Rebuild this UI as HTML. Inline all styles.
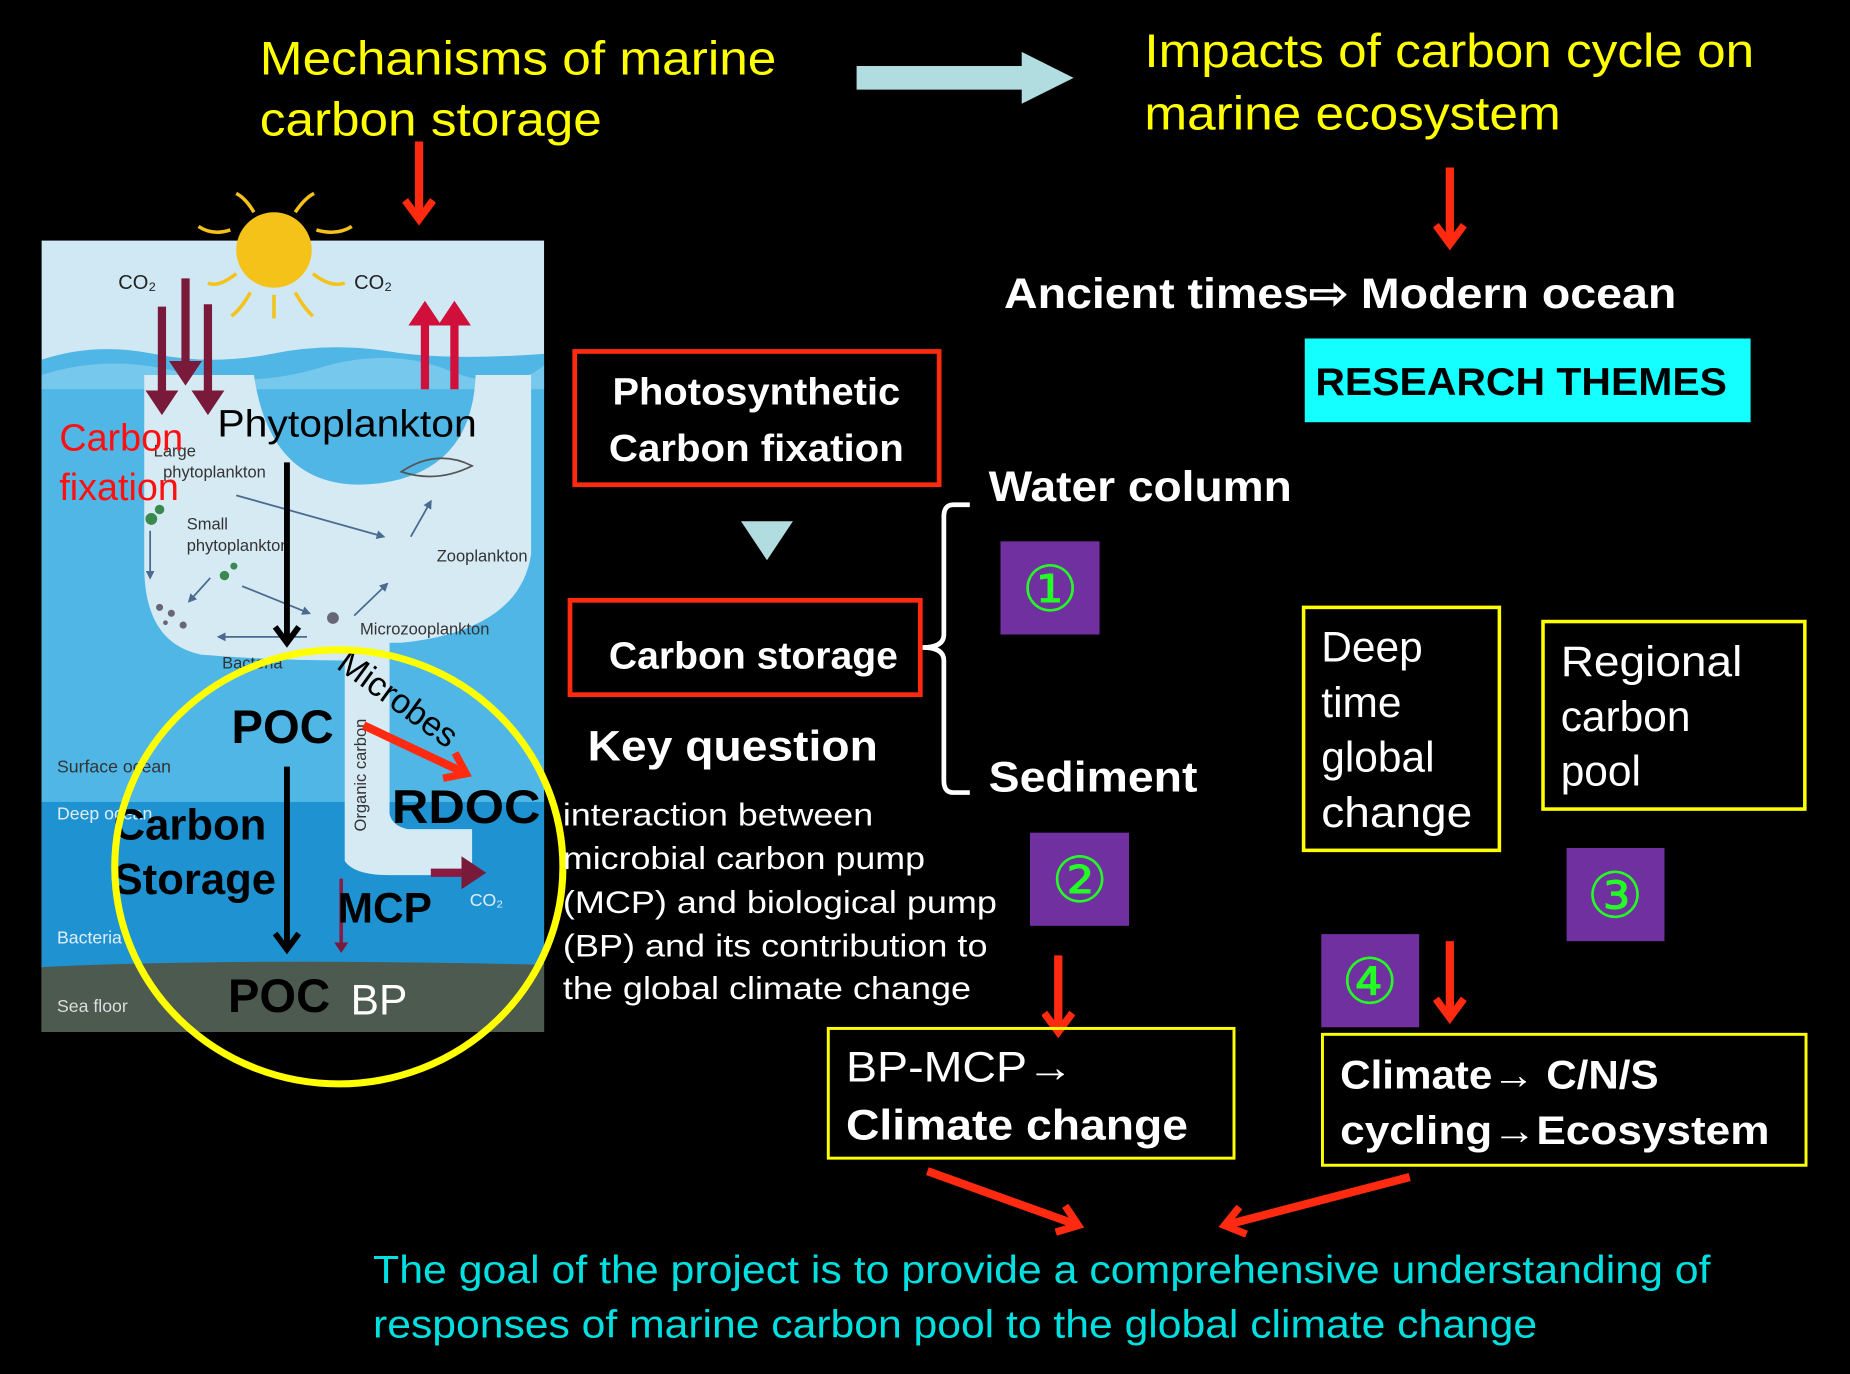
<!DOCTYPE html>
<html><head><meta charset="utf-8"><style>
html,body{margin:0;padding:0;background:#000;width:1850px;height:1374px;overflow:hidden}
svg{display:block}
text{font-family:"Liberation Sans",sans-serif}
</style></head><body>
<svg width="1850" height="1374" viewBox="0 0 1568 1165" xmlns="http://www.w3.org/2000/svg">
<defs>
<marker id="rh" markerWidth="4" markerHeight="4" refX="2.6" refY="2" orient="auto" markerUnits="strokeWidth"><path d="M0.3,0.3 L2.6,2 L0.3,3.7" fill="none" stroke="#ff2a10" stroke-width="0.9"/></marker>
<marker id="bh" markerWidth="5" markerHeight="5" refX="3" refY="2.5" orient="auto" markerUnits="strokeWidth"><path d="M0.3,0.5 L3,2.5 L0.3,4.5" fill="none" stroke="#000" stroke-width="1"/></marker>
<marker id="dh" markerWidth="4" markerHeight="4" refX="2" refY="2" orient="auto" markerUnits="strokeWidth"><path d="M0,0 L3,2 L0,4z" fill="#7a1a3a"/></marker>
<marker id="ph" markerWidth="4" markerHeight="4" refX="2" refY="2" orient="auto" markerUnits="strokeWidth"><path d="M0,0 L3,2 L0,4z" fill="#d0103a"/></marker>
<marker id="sh" markerWidth="6" markerHeight="6" refX="4" refY="3" orient="auto" markerUnits="strokeWidth"><path d="M0,0.5 L5,3 L0,5.5z" fill="#4a6a90"/></marker>
</defs>
<rect width="1568" height="1165" fill="#000"/>

<text x="220" y="63" font-size="40" fill="#ffff00" textLength="438" lengthAdjust="spacingAndGlyphs">Mechanisms of marine</text>
<text x="220" y="115" font-size="40" fill="#ffff00" textLength="290" lengthAdjust="spacingAndGlyphs">carbon storage</text>
<text x="970" y="57" font-size="40" fill="#ffff00" textLength="517" lengthAdjust="spacingAndGlyphs">Impacts of carbon cycle on</text>
<text x="970" y="110" font-size="40" fill="#ffff00" textLength="353" lengthAdjust="spacingAndGlyphs">marine ecosystem</text>
<path d="M726,56 H866 V44 L910,66 L866,88 V76 H726z" fill="#b2dde0"/>
<line x1="355" y1="120" x2="355" y2="186" stroke="#ff2a10" stroke-width="7" marker-end="url(#rh)"/>
<line x1="1229" y1="142" x2="1229" y2="207" stroke="#ff2a10" stroke-width="7" marker-end="url(#rh)"/>

<rect x="35" y="204" width="426" height="671" fill="#cfe8f3"/>
<path d="M35,305 Q80,290 130,300 T230,300 T330,298 T461,300 V680 H35z" fill="#4fb6e6"/>
<path d="M35,318 Q90,300 150,315 T270,312 T380,314 T461,310 V330 H35z" fill="#7fcdee" opacity="0.8"/>
<rect x="35" y="680" width="426" height="140" fill="#1f92d2"/>
<path d="M35,820 Q200,812 461,818 V875 H35z" fill="#4c5a50"/>
<path d="M122,318 H215 Q230,420 320,410 Q400,400 403,318 H450 V470 Q440,535 340,545 H330 V690 Q332,700 345,703 H400 V742 H330 Q300,742 292,730 V560 Q230,560 170,555 Q122,545 122,480z" fill="#d6eaf4"/>
<circle cx="232" cy="212" r="32" fill="#f5c21a"/>
<g stroke="#f5c21a" stroke-width="3" fill="none">
<path d="M195,195 Q180,200 168,192"/><path d="M268,195 Q285,200 298,192"/><path d="M250,248 Q258,262 265,268"/><path d="M212,248 Q204,262 196,268"/><path d="M200,232 Q185,244 176,240"/><path d="M265,232 Q280,244 292,240"/><path d="M232,250 V270"/><path d="M215,180 Q208,168 200,164"/><path d="M250,180 Q258,168 266,164"/></g>
<text x="100" y="245" font-size="17" fill="#222">CO₂</text>
<text x="300" y="245" font-size="17" fill="#222">CO₂</text>
<line x1="137" y1="260" x2="137" y2="345" stroke="#7a1a3a" stroke-width="7" marker-end="url(#dh)"/>
<line x1="157" y1="236" x2="157" y2="320" stroke="#7a1a3a" stroke-width="7" marker-end="url(#dh)"/>
<line x1="176" y1="258" x2="176" y2="345" stroke="#7a1a3a" stroke-width="7" marker-end="url(#dh)"/>
<line x1="360" y1="330" x2="360" y2="262" stroke="#d0103a" stroke-width="7" marker-end="url(#ph)"/>
<line x1="385" y1="330" x2="385" y2="262" stroke="#d0103a" stroke-width="7" marker-end="url(#ph)"/>
<text x="130" y="387" font-size="14" fill="#333">Large</text>
<text x="138" y="405" font-size="14" fill="#333">phytoplankton</text>
<text x="158" y="449" font-size="14" fill="#333">Small</text>
<text x="158" y="467" font-size="14" fill="#333">phytoplankton</text>
<text x="370" y="476" font-size="14" fill="#333">Zooplankton</text>
<text x="305" y="538" font-size="14" fill="#333">Microzooplankton</text>
<text x="188" y="567" font-size="14" fill="#333">Bacteria</text>
<text x="48" y="655" font-size="15" fill="#333">Surface ocean</text>
<text x="48" y="695" font-size="15" fill="#e0eef8">Deep ocean</text>
<text x="48" y="800" font-size="15" fill="#e0eef8">Bacteria</text>
<text x="48" y="858" font-size="15" fill="#ddd">Sea floor</text>
<text x="398" y="768" font-size="15" fill="#e0eef8">CO₂</text>
<g stroke="#4a6a90" stroke-width="1.5" fill="none">
<line x1="200" y1="420" x2="325" y2="455" marker-end="url(#sh)"/>
<line x1="127" y1="450" x2="127" y2="490" marker-end="url(#sh)"/>
<line x1="178" y1="490" x2="160" y2="510" marker-end="url(#sh)"/>
<line x1="205" y1="497" x2="262" y2="520" marker-end="url(#sh)"/>
<line x1="260" y1="540" x2="185" y2="540" marker-end="url(#sh)"/>
<line x1="300" y1="522" x2="328" y2="495" marker-end="url(#sh)"/>
<line x1="348" y1="455" x2="365" y2="425" marker-end="url(#sh)"/>
</g>
<path d="M340,400 Q370,380 400,395 Q370,410 340,400z" fill="none" stroke="#555" stroke-width="1.5"/>
<g fill="#3a8a50"><circle cx="128" cy="440" r="5"/><circle cx="135" cy="432" r="4"/><circle cx="190" cy="488" r="4"/><circle cx="198" cy="480" r="3"/></g>
<g fill="#667"><circle cx="135" cy="515" r="3"/><circle cx="145" cy="520" r="3"/><circle cx="155" cy="530" r="3"/><circle cx="140" cy="528" r="2"/><circle cx="282" cy="524" r="5"/></g>
<line x1="365" y1="740" x2="405" y2="740" stroke="#8a1a40" stroke-width="7" marker-end="url(#dh)"/>
<line x1="289" y1="745" x2="289" y2="805" stroke="#8a1a40" stroke-width="3" marker-end="url(#dh)"/>
<text x="310" y="705" font-size="14" fill="#333" transform="rotate(-90 310 705)">Organic carbon</text>

<text x="50" y="382" font-size="32" fill="#ff1010">Carbon</text>
<text x="50" y="424" font-size="32" fill="#ff1010">fixation</text>
<text x="184" y="370" font-size="32" fill="#000" textLength="220" lengthAdjust="spacingAndGlyphs">Phytoplankton</text>
<line x1="243" y1="392" x2="243" y2="545" stroke="#000" stroke-width="5" marker-end="url(#bh)"/>
<line x1="243" y1="650" x2="243" y2="805" stroke="#000" stroke-width="5" marker-end="url(#bh)"/>
<text x="196" y="630" font-size="40" font-weight="bold" fill="#000">POC</text>
<text x="96" y="712" font-size="37" font-weight="bold" fill="#000">Carbon</text>
<text x="96" y="758" font-size="37" font-weight="bold" fill="#000">Storage</text>
<text x="332" y="698" font-size="40" font-weight="bold" fill="#000" textLength="126" lengthAdjust="spacingAndGlyphs">RDOC</text>
<text x="286" y="782" font-size="36" font-weight="bold" fill="#000">MCP</text>
<text x="193" y="858" font-size="40" font-weight="bold" fill="#000">POC</text>
<text x="297" y="860" font-size="36" fill="#fff">BP</text>
<text x="284" y="566" font-size="29" fill="#000" transform="rotate(36 284 566)">Microbes</text>
<line x1="308" y1="615" x2="395" y2="656" stroke="#ff2a10" stroke-width="7" marker-end="url(#rh)"/>
<ellipse cx="287" cy="735" rx="190" ry="184" fill="none" stroke="#ffff00" stroke-width="6"/>

<rect x="487" y="298" width="309" height="113" fill="none" stroke="#ff2a10" stroke-width="4"/>
<text x="641" y="343" font-size="32" font-weight="bold" fill="#fff" text-anchor="middle" textLength="244" lengthAdjust="spacingAndGlyphs">Photosynthetic</text>
<text x="641" y="391" font-size="32" font-weight="bold" fill="#fff" text-anchor="middle" textLength="250" lengthAdjust="spacingAndGlyphs">Carbon fixation</text>
<path d="M628,442 H672 L650,475z" fill="#b2dde0"/>
<rect x="483" y="509" width="297" height="80" fill="none" stroke="#ff2a10" stroke-width="4"/>
<text x="516" y="567" font-size="32" font-weight="bold" fill="#fff" textLength="245" lengthAdjust="spacingAndGlyphs">Carbon storage</text>
<path d="M822,428 H808 Q800,428 800,438 V538 Q800,549 782,549 Q800,549 800,560 V662 Q800,672 808,672 H822" fill="none" stroke="#fff" stroke-width="4"/>
<text x="838" y="425" font-size="36" font-weight="bold" fill="#fff" textLength="257" lengthAdjust="spacingAndGlyphs">Water column</text>
<text x="838" y="671" font-size="36" font-weight="bold" fill="#fff" textLength="177" lengthAdjust="spacingAndGlyphs">Sediment</text>
<text x="498" y="645" font-size="36" font-weight="bold" fill="#fff" textLength="246" lengthAdjust="spacingAndGlyphs">Key question</text>
<g font-size="27" fill="#fff">
<text x="477" y="700" textLength="263" lengthAdjust="spacingAndGlyphs">interaction between</text>
<text x="477" y="737" textLength="307" lengthAdjust="spacingAndGlyphs">microbial carbon pump</text>
<text x="477" y="774" textLength="368" lengthAdjust="spacingAndGlyphs">(MCP) and biological pump</text>
<text x="477" y="811" textLength="360" lengthAdjust="spacingAndGlyphs">(BP) and its contribution to</text>
<text x="477" y="847" textLength="346" lengthAdjust="spacingAndGlyphs">the global climate change</text>
</g>

<text x="851" y="261" font-size="36" font-weight="bold" fill="#fff" textLength="570" lengthAdjust="spacingAndGlyphs">Ancient times⇨ Modern ocean</text>
<rect x="1106" y="287" width="378" height="71" fill="#14ffff"/>
<text x="1115" y="335" font-size="33" font-weight="bold" fill="#000" textLength="349" lengthAdjust="spacingAndGlyphs">RESEARCH THEMES</text>
<g fill="#7030a0">
<rect x="848" y="459" width="84" height="79"/>
<rect x="873" y="706" width="84" height="79"/>
<rect x="1328" y="719" width="83" height="79"/>
<rect x="1120" y="792" width="83" height="79"/>
</g>
<g font-size="54" fill="#22ff22" text-anchor="middle">
<text x="890" y="518" style="font-family:'DejaVu Sans',sans-serif">①</text>
<text x="915" y="765" style="font-family:'DejaVu Sans',sans-serif">②</text>
<text x="1369" y="778" style="font-family:'DejaVu Sans',sans-serif">③</text>
<text x="1161" y="851" style="font-family:'DejaVu Sans',sans-serif">④</text>
</g>
<rect x="1105" y="515" width="166" height="206" fill="none" stroke="#ffff00" stroke-width="3"/>
<g font-size="36" fill="#fff">
<text x="1120" y="561">Deep</text><text x="1120" y="608">time</text><text x="1120" y="654">global</text><text x="1120" y="701" textLength="128" lengthAdjust="spacingAndGlyphs">change</text>
</g>
<rect x="1308" y="527" width="222" height="159" fill="none" stroke="#ffff00" stroke-width="3"/>
<g font-size="36" fill="#fff">
<text x="1323" y="573" textLength="154" lengthAdjust="spacingAndGlyphs">Regional</text><text x="1323" y="620">carbon</text><text x="1323" y="666">pool</text>
</g>
<line x1="897" y1="810" x2="897" y2="875" stroke="#ff2a10" stroke-width="7" marker-end="url(#rh)"/>
<line x1="1229" y1="798" x2="1229" y2="863" stroke="#ff2a10" stroke-width="7" marker-end="url(#rh)"/>
<rect x="702" y="872" width="344" height="110" fill="none" stroke="#ffff00" stroke-width="2.5"/>
<text x="717" y="917" font-size="36" fill="#fff" textLength="193" lengthAdjust="spacingAndGlyphs">BP-MCP→</text>
<text x="717" y="966" font-size="36" font-weight="bold" fill="#fff" textLength="290" lengthAdjust="spacingAndGlyphs">Climate change</text>
<rect x="1121" y="877" width="410" height="111" fill="none" stroke="#ffff00" stroke-width="2.5"/>
<text x="1136" y="923" font-size="34" font-weight="bold" fill="#fff" textLength="270" lengthAdjust="spacingAndGlyphs">Climate→ C/N/S</text>
<text x="1136" y="970" font-size="34" font-weight="bold" fill="#fff" textLength="364" lengthAdjust="spacingAndGlyphs">cycling→Ecosystem</text>
<line x1="786" y1="993" x2="914" y2="1039" stroke="#ff2a10" stroke-width="7" marker-end="url(#rh)"/>
<line x1="1195" y1="998" x2="1038" y2="1039" stroke="#ff2a10" stroke-width="7" marker-end="url(#rh)"/>
<text x="316" y="1088" font-size="33" fill="#00e0e0" textLength="1134" lengthAdjust="spacingAndGlyphs">The goal of the project is to provide a comprehensive understanding of</text>
<text x="316" y="1134" font-size="33" fill="#00e0e0" textLength="987" lengthAdjust="spacingAndGlyphs">responses of marine carbon pool to the global climate change</text>
</svg>
</body></html>
